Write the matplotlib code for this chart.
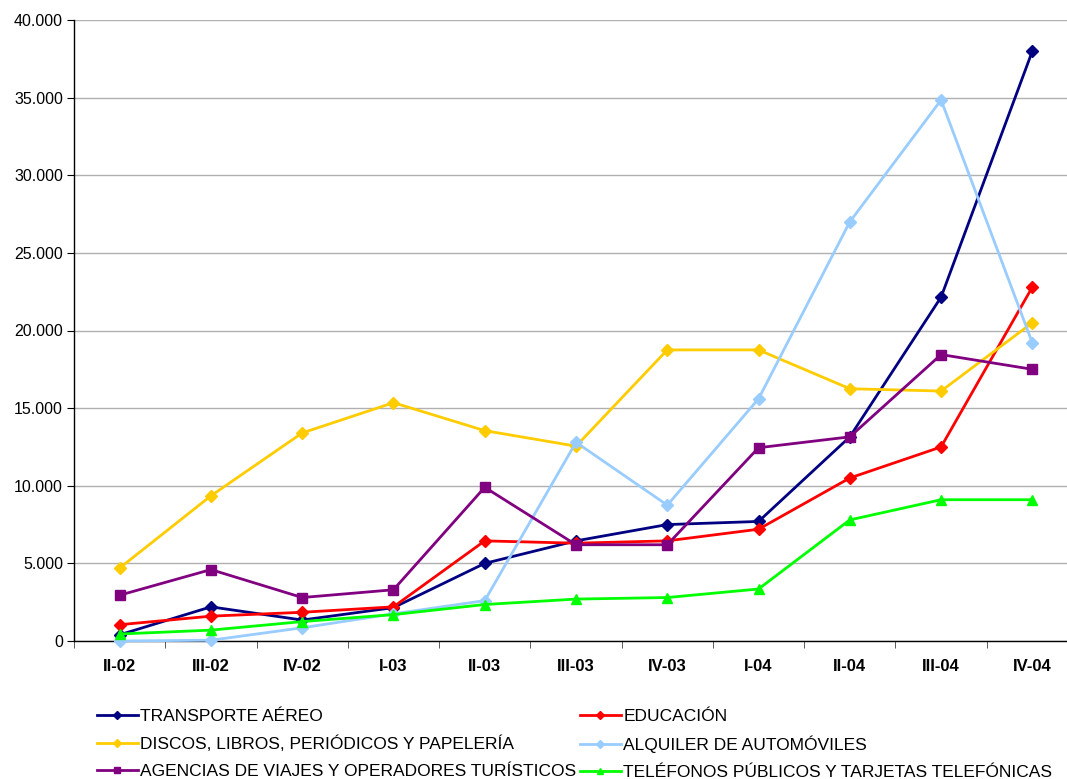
import numpy as np
import matplotlib
matplotlib.use("Agg")
import matplotlib.pyplot as plt
from matplotlib.ticker import FuncFormatter

plt.rcParams['font.family'] = ['Liberation Sans', 'DejaVu Sans']

trimestres = ["II-02", "III-02", "IV-02", "I-03", "II-03", "III-03",
              "IV-03", "I-04", "II-04", "III-04", "IV-04"]

transporte = [400, 2200, 1350, 2150, 5000, 6450, 7500, 7700, 13150, 22150, 38000]
educacion = [1050, 1600, 1850, 2200, 6450, 6300, 6450, 7200, 10500, 12500, 22800]
discos = [4700, 9350, 13400, 15350, 13550, 12550, 18750, 18750, 16250, 16100, 20500]
alquiler = [0, 50, 850, 1750, 2600, 12800, 8750, 15600, 27000, 34850, 19200]
agencias = [2950, 4600, 2800, 3300, 9900, 6200, 6200, 12450, 13150, 18450, 17500]
telefonos = [450, 700, 1250, 1700, 2350, 2700, 2800, 3350, 7800, 9100, 9100]

series = [
    ("TRANSPORTE AÉREO", transporte, "#000080", "D", 6),
    ("EDUCACIÓN", educacion, "#ff0000", "D", 6),
    ("DISCOS, LIBROS, PERIÓDICOS Y PAPELERÍA", discos, "#ffcc00", "D", 6),
    ("ALQUILER DE AUTOMÓVILES", alquiler, "#99ccff", "D", 6),
    ("AGENCIAS DE VIAJES Y OPERADORES TURÍSTICOS", agencias, "#800080", "s", 6.5),
    ("TELÉFONOS PÚBLICOS Y TARJETAS TELEFÓNICAS", telefonos, "#00ff00", "^", 7),
]

fig = plt.figure(figsize=(10.67, 7.79), dpi=100)
W, H = 1067, 779
ax = fig.add_axes([74 / W, 1 - 641 / H, 1004 / W, 621 / H])

x = np.arange(len(trimestres))
lines = {}
for name, vals, col, mk, ms in series:
    ln, = ax.plot(x, vals, color=col, marker=mk, markersize=ms, linewidth=2,
                  label=name, clip_on=False, zorder=3)
    lines[name] = ln

ax.set_xlim(-0.5, len(trimestres) - 0.5)
ax.set_ylim(0, 40000)
ax.set_yticks(np.arange(0, 40001, 5000))
ax.yaxis.set_major_formatter(FuncFormatter(lambda v, p: f"{int(v):,}".replace(",", ".")))
ax.set_xticks(x)
ax.set_xticklabels(trimestres, fontweight="bold", fontsize=12)
ax.set_xticks(np.arange(-0.5, len(trimestres), 1), minor=True)
ax.tick_params(axis="x", which="major", length=0, pad=13)
ax.tick_params(axis="x", which="minor", length=5, direction="out", color="#404040")
ax.tick_params(axis="y", length=5, direction="out", labelsize=11.5, pad=3)
ax.grid(axis="y", color="#b0b0b0", linewidth=1)
ax.set_axisbelow(True)
for s in ["top", "right"]:
    ax.spines[s].set_visible(False)
ax.spines["left"].set_linewidth(1)
ax.spines["bottom"].set_linewidth(1)

order = [series[i][0] for i in (0, 2, 4, 1, 3, 5)]
fig.legend([lines[n] for n in order], order, ncol=2, frameon=False,
           loc="upper left", bbox_to_anchor=(97 / W, 1 - 709 / H),
           fontsize=12.5, handlelength=2.35, handletextpad=0.15,
           columnspacing=0.2, labelspacing=0.68, borderpad=0, borderaxespad=0,
           markerscale=0.7)

fig.savefig("out.png", dpi=100)
